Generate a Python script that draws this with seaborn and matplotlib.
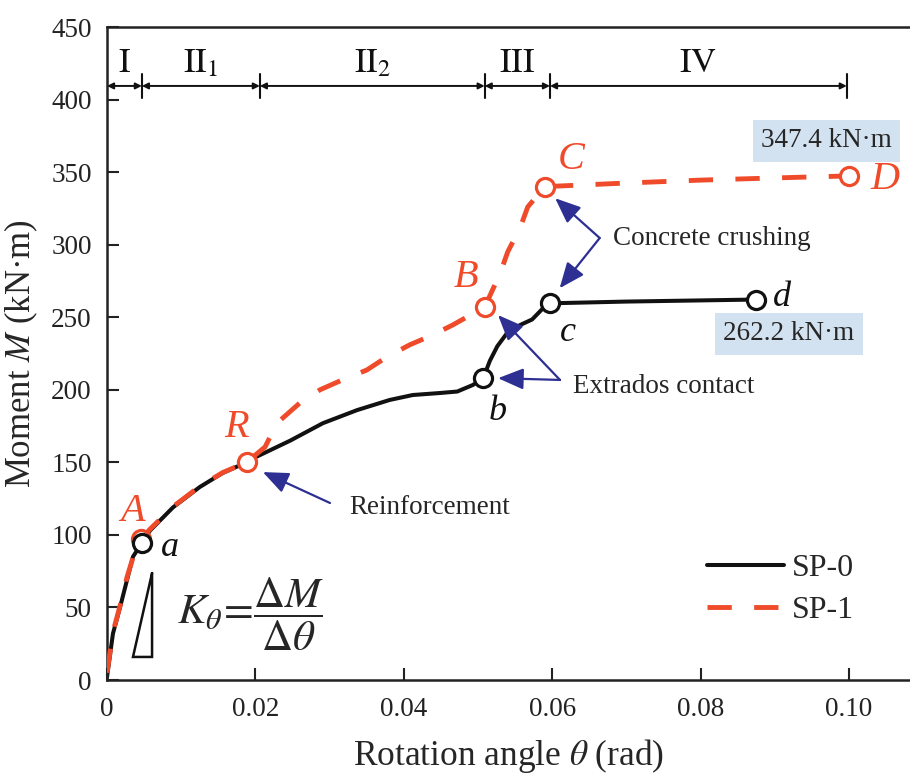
import numpy as np
import pandas as pd
import matplotlib
matplotlib.use("Agg")
import matplotlib.pyplot as plt
from matplotlib.lines import Line2D
import seaborn as sns

# ---- data -------------------------------------------------------------
theta_sp0 = [0, 0.0008, 0.00175, 0.0027, 0.0035, 0.0047, 0.0058, 0.0089, 0.0125,
             0.0156, 0.0188, 0.0202, 0.0247, 0.0291, 0.0337, 0.0381, 0.0412,
             0.0449, 0.0472, 0.0493, 0.0507, 0.0516, 0.0526, 0.0539, 0.0557,
             0.0573, 0.0588, 0.0597, 0.07, 0.08, 0.0875]
moment_sp0 = [2, 32, 50, 69, 85, 94.4, 103, 119, 133, 142.7, 150, 154, 165, 177,
              186, 193, 196.4, 197.8, 198.8, 203.3, 208, 220, 230, 239, 244.7,
              248.5, 256.4, 259.6, 260.8, 261.6, 262.2]

theta_sp1 = [0, 0.0008, 0.0018, 0.0027, 0.0036, 0.0046, 0.0058, 0.0089, 0.0125,
             0.0156, 0.0188, 0.0213, 0.0229, 0.026, 0.0287, 0.0318, 0.035, 0.0377,
             0.0408, 0.0439, 0.0466, 0.0509, 0.053, 0.054, 0.0557, 0.0567, 0.059,
             0.07, 0.08, 0.09, 0.1]
moment_sp1 = [5, 33, 52, 71, 86, 97, 104, 119.5, 133.5, 143, 150, 160.6, 177, 191,
              200, 207, 213.6, 222.6, 231, 237.8, 244.7, 257, 280.5, 295, 312, 326,
              340, 342.5, 344.5, 346, 347.4]

# characteristic points
pts_sp0_labels = ["a", "b", "c", "d"]
pts_sp0_theta = [0.0047, 0.0507, 0.0597, 0.0875]
pts_sp0_moment = [94.4, 208, 259.6, 262.2]

pts_sp1_labels = ["A", "R", "B", "C", "D"]
pts_sp1_theta = [0.0046, 0.0188, 0.0509, 0.059, 0.1]
pts_sp1_moment = [97, 150, 257, 340, 347.4]

# stage boundaries along the rotation axis
stage_bounds = [0, 0.0047, 0.0206, 0.0509, 0.0597, 0.0997]
stage_names = [r"$\mathrm{I}$", r"$\mathrm{II}_1$", r"$\mathrm{II}_2$",
               r"$\mathrm{III}$", r"$\mathrm{IV}$"]

x_ticks = [0, 0.02, 0.04, 0.06, 0.08, 0.10]
x_ticklabels = ["0", "0.02", "0.04", "0.06", "0.08", "0.10"]
y_ticks = list(range(0, 451, 50))

# ---- style ------------------------------------------------------------
sns.set_theme(style="ticks")
plt.rcParams["font.family"] = ["Liberation Serif", "DejaVu Serif"]
plt.rcParams["mathtext.fontset"] = "stix"

RED = "#ef4b2b"
BLACK = "#111111"
BLUE = "#2d2f92"
BOXC = "#d3e2f1"

df0 = pd.DataFrame({"theta": theta_sp0, "M": moment_sp0})
df1 = pd.DataFrame({"theta": theta_sp1, "M": moment_sp1})

fig = plt.figure(figsize=(9.1, 7.81), dpi=100)
ax = fig.add_axes([0.1176, 0.1293, 0.8824, 0.8361])

sns.lineplot(data=df0, x="theta", y="M", ax=ax, sort=False, estimator=None,
             color=BLACK, lw=2.9, zorder=2)
sns.lineplot(data=df1, x="theta", y="M", ax=ax, sort=False, estimator=None,
             color=RED, lw=3.5, zorder=3, dashes=False)
ax.lines[-1].set_dashes((5, 4.6))

ax.scatter(pts_sp1_theta, pts_sp1_moment, s=170, facecolor="white",
           edgecolor=RED, linewidth=2.3, zorder=4)
ax.scatter(pts_sp0_theta, pts_sp0_moment, s=170, facecolor="white",
           edgecolor=BLACK, linewidth=2.3, zorder=5)

# point letters
lab_pos = {"A": (0.0034, 115.8), "R": (0.0174, 173.7), "B": (0.0484, 277.7),
           "C": (0.0625, 358.4), "D": (0.1049, 344.6),
           "a": (0.0085, 91), "b": (0.0526, 184.7), "c": (0.0621, 239.8),
           "d": (0.0910, 263.3)}
for name in pts_sp1_labels:
    ax.text(*lab_pos[name], name, color=RED, fontsize=29, fontstyle="italic",
            ha="center", va="center", zorder=6)
for name in pts_sp0_labels:
    ax.text(*lab_pos[name], name, color=BLACK, fontsize=26, fontstyle="italic",
            ha="center", va="center", zorder=6)

# axes cosmetics
ax.set_xlim(0, 0.10822)
ax.set_ylim(0, 450)
ax.set_xticks(x_ticks)
ax.set_xticklabels(x_ticklabels)
ax.set_yticks(y_ticks)
ax.tick_params(direction="in", length=8.6, width=1.5, labelsize=19.5,
               colors="#222222", pad=11)
ax.tick_params(axis="x", pad=12)
for side in ["left", "bottom", "top"]:
    ax.spines[side].set_linewidth(1.8)
    ax.spines[side].set_color("#222222")
ax.spines["right"].set_visible(False)
ax.set_xlabel(r"Rotation angle $\theta$ (rad)", fontsize=25.5, labelpad=11)
ax.set_ylabel("Moment $M$ (kN·m)", fontsize=25, labelpad=8)

# stage dimension line at the top
y_stage = 409.4
for x0, x1, nm in zip(stage_bounds[:-1], stage_bounds[1:], stage_names):
    ax.annotate("", xy=(x1, y_stage), xytext=(x0, y_stage),
                arrowprops=dict(arrowstyle="<|-|>", color=BLACK, lw=1.4,
                                mutation_scale=9, shrinkA=0, shrinkB=0))
    ax.text((x0 + x1) / 2, 419, nm, fontsize=25, ha="center", va="baseline",
            color=BLACK)
for xb in stage_bounds[1:]:
    ax.plot([xb, xb], [401, 417.5], color=BLACK, lw=1.5)

# callouts
arrow_kw = dict(arrowstyle="-|>,head_length=0.6,head_width=0.25", color=BLUE,
                lw=1.6, mutation_scale=26, shrinkA=0, shrinkB=0)
ax.annotate("", xy=(0.0210, 143.3), xytext=(0.03005, 122), arrowprops=arrow_kw)
ax.text(0.0327, 119.2, "Reinforcement", fontsize=19.5, ha="left", va="center")

ax.annotate("", xy=(0.0527, 208), xytext=(0.06105, 206.8), arrowprops=arrow_kw)
ax.annotate("", xy=(0.0527, 251.5), xytext=(0.06105, 206.8), arrowprops=arrow_kw)
ax.text(0.0628, 202, "Extrados contact", fontsize=19.5, ha="left", va="center")

ax.annotate("", xy=(0.0604, 332), xytext=(0.0664, 304.6), arrowprops=arrow_kw)
ax.annotate("", xy=(0.0610, 270), xytext=(0.0664, 304.6), arrowprops=arrow_kw)
ax.text(0.0682, 304.6, "Concrete crushing", fontsize=19.5, ha="left", va="center")

# peak moment boxes
box = dict(boxstyle="square,pad=0.3", facecolor=BOXC, edgecolor="none")
ax.text(0.0969, 371.5, "347.4 kN·m", fontsize=19.5, ha="center", va="center",
        bbox=box)
ax.text(0.0919, 238.5, "262.2 kN·m", fontsize=19.5, ha="center", va="center",
        bbox=box)

# stiffness sketch and definition
ax.plot([0.00607, 0.00607, 0.0035, 0.00607], [73.7, 15.9, 15.9, 73.7],
        color=BLACK, lw=1.8, solid_joinstyle="miter")
ax.text(0.0193, 45, r"$K_{\theta}\!=\!\dfrac{\Delta M}{\Delta\theta}$",
        fontsize=31, ha="center", va="center")

# legend
handles = [Line2D([], [], color=BLACK, lw=2.9),
           Line2D([], [], color=RED, lw=3.5, dashes=(5, 4.6))]
ax.legend(handles, ["SP-0", "SP-1"], loc="upper left", frameon=False,
          bbox_to_anchor=(707 / 910, 1 - 554 / 781), bbox_transform=fig.transFigure,
          borderaxespad=0, borderpad=0, handlelength=2.4, handletextpad=0.25,
          labelspacing=0.38, fontsize=23)

fig.savefig("out.png", dpi=100)
